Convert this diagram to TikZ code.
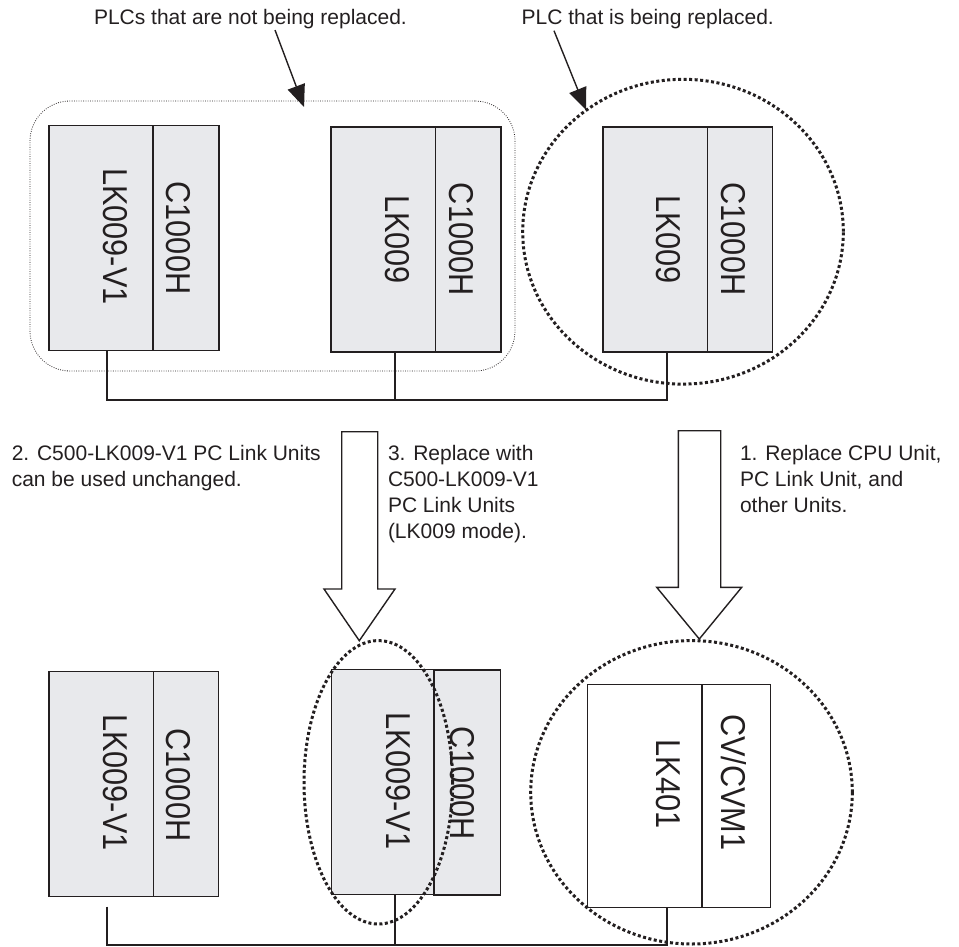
\documentclass[tikz,border=0pt]{standalone}
\usepackage{fontspec}
\setmainfont{Liberation Sans}
\usepackage{graphicx}
\usetikzlibrary{arrows.meta,shapes.geometric}
\definecolor{ink}{RGB}{35,31,32}
\definecolor{plcgrey}{RGB}{232,233,236}
\newcommand\plcnarrow[1]{\scalebox{0.89}[1]{#1}}
\begin{document}
\begin{tikzpicture}[x=1pt,y=-1pt,
  every node/.style={inner sep=0pt, outer sep=0pt, text=ink},
  unitbox/.style={draw=ink, line width=1.4pt, fill=plcgrey, rectangle, minimum height=225pt},
  unitwhite/.style={unitbox, fill=white},
  utext/.style={rotate=-90, anchor=base, font=\fontsize{34.5}{35}\selectfont},
  lbl/.style={font=\fontsize{21}{25.8}\selectfont, align=left, anchor=base west},
  wire/.style={draw=ink, line width=1.4pt},
  finedots/.style={draw=ink, line width=0.8pt, dash pattern=on 0.8pt off 1.5pt},
  bigdots/.style={draw=ink, line width=3pt, dash pattern=on 3pt off 2.5pt},
  pointer/.style={draw=ink, line width=1.4pt, -{Triangle[length=22pt,width=18pt]}},
  hollow/.style={draw=ink, line width=1.4pt, fill=white, line join=miter},
]
\useasboundingbox (0,0) rectangle (959,946);

% ---------- top row ----------
\node[unitbox, minimum width=104pt] (tl1) at (101,238.2) {};
\node[unitbox, minimum width=66pt] (tl2) at (186,238.2) {};
\node[unitbox, minimum width=104.3pt] (tm1) at (383.2,239.5) {};
\node[unitbox, minimum width=65.7pt] (tm2) at (468.2,239.5) {};
\node[unitbox, minimum width=104.3pt] (tr1) at (655.2,239.4) {};
\node[unitbox, minimum width=65.4pt] (tr2) at (740,239.4) {};

\node[utext] (tl1t) at (103,236.5) {\plcnarrow{LK009-V1}};
\node[utext] (tl2t) at (166.7,238) {\plcnarrow{C1000H}};
\node[utext] (tm1t) at (385,239.5) {\plcnarrow{LK009}};
\node[utext] (tm2t) at (449.3,239.3) {\plcnarrow{C1000H}};
\node[utext] (tr1t) at (656.7,239.5) {\plcnarrow{LK009}};
\node[utext] (tr2t) at (721.7,239) {\plcnarrow{C1000H}};

\coordinate (tb1) at (107,400);
\coordinate (tb2) at (395,400);
\coordinate (tb3) at (667,400);
\draw[wire] (tb1 |- tl1.south) -- (tb1) -- (tb3) -- (tb3 |- tr1.south);
\draw[wire] (tb2 |- tm1.south) -- (tb2);

\node[finedots, rectangle, rounded corners=40pt, minimum width=485pt, minimum height=270pt] (grp) at (272.5,236) {};
\node[bigdots, ellipse, minimum width=320.6pt, minimum height=304.8pt] (ring1) at (683,231.7) {};

% ---------- labels with pointers ----------
\node[lbl] (lab1) at (94,24) {PLCs that are not being replaced.};
\node[lbl] (lab2) at (521.7,24) {PLC that is being replaced.};
\coordinate (p1s) at (275,30);
\coordinate (p1e) at (304,107);
\coordinate (p2s) at (554,30.7);
\coordinate (p2e) at (586,110);
\draw[pointer] (p1s) -- (p1e);
\draw[pointer] (p2s) -- (p2e);

% ---------- middle ----------
\draw[hollow] (341.7,431.7) -- (341.7,589) -- (324,589) -- (359.3,640.7) -- (395,589) -- (377.7,589) -- (377.7,431.7) -- cycle;
\draw[hollow] (678.3,430.7) -- (678.3,587.3) -- (656.7,587.3) -- (699.3,639) -- (741.7,587.3) -- (720.7,587.3) -- (720.7,430.7) -- cycle;

% (anchor base west of a multi-line node = baseline of its last line)
\node[lbl] (st2) at (11.8,486.5) {2. C500-LK009-V1 PC Link Units\\can be used unchanged.};
\node[lbl] (st3) at (388,538.1) {3. Replace with\\C500-LK009-V1\\PC Link Units\\(LK009 mode).};
\node[lbl] (st1) at (740,512.3) {1. Replace CPU Unit,\\PC Link Unit, and\\other Units.};

% ---------- bottom row ----------
\node[unitbox, minimum width=104.3pt] (bl1) at (101.2,784.2) {};
\node[unitbox, minimum width=65.4pt] (bl2) at (186,784.2) {};
\node[unitbox, minimum width=102.3pt] (bm1) at (382.8,781.8) {};
\node[unitbox, minimum width=66.7pt] (bm2) at (467.3,782.5) {};
\node[unitwhite, minimum width=114.7pt, minimum height=223.4pt] (br1) at (644.7,796) {};
\node[unitwhite, minimum width=68.7pt, minimum height=223.4pt] (br2) at (736.3,796) {};

\node[utext] (bl1t) at (103.3,782.5) {\plcnarrow{LK009-V1}};
\node[utext] (bl2t) at (166.7,785) {\plcnarrow{C1000H}};
\node[utext] (bm1t) at (386,781) {\plcnarrow{LK009-V1}};
\node[utext] (bm2t) at (450,783.3) {\plcnarrow{C1000H}};
\node[utext] (br1t) at (656.7,784) {\plcnarrow{LK401}};
\node[utext] (br2t) at (721.7,782.3) {\plcnarrow{CV/CVM1}};

\coordinate (bb0) at (107,906.7);
\coordinate (bb1) at (107,945);
\coordinate (bb2) at (395,945);
\coordinate (bb3) at (667,945);
\draw[wire] (bb0) -- (bb1) -- (bb3) -- (bb3 |- br1.south);
\draw[wire] (bb2 |- bm1.south) -- (bb2);

\node[bigdots, ellipse, minimum width=148.6pt, minimum height=283.4pt] (ring2) at (378.3,782.3) {};
\node[bigdots, ellipse, minimum width=321.6pt, minimum height=303.4pt] (ring3) at (691.5,792.3) {};
\end{tikzpicture}
\end{document}
